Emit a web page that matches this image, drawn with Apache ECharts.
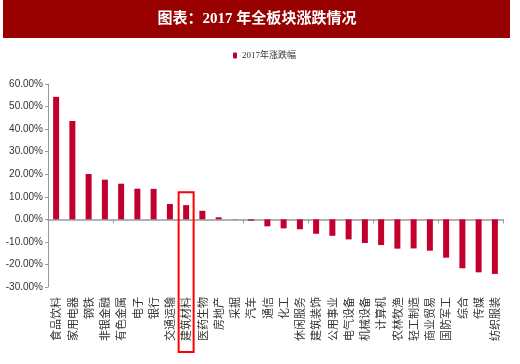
<!DOCTYPE html>
<html><head><meta charset="utf-8">
<script src="https://cdn.jsdelivr.net/npm/echarts@6/dist/echarts.min.js"></script>
<style>html,body{margin:0;padding:0;background:#fff}#c{width:520px;height:364px}</style>
</head><body><div id="c"></div>
<script>
var categories = ['食品饮料','家用电器','钢铁','非银金融','有色金属','电子','银行','交通运输','建筑材料','医药生物','房地产','采掘','汽车','通信','化工','休闲服务','建筑装饰','公用事业','电气设备','机械设备','计算机','农林牧渔','轻工制造','商业贸易','国防军工','综合','传媒','纺织服装'];
var values = [54.3,43.6,20.1,17.6,15.8,13.6,13.5,6.8,6.3,3.8,0.9,0.1,-0.6,-3.1,-4.0,-4.4,-6.4,-7.3,-8.9,-10.5,-11.4,-13.0,-12.9,-13.9,-17.0,-21.7,-23.5,-24.2];
var seriesName = '2017年涨跌幅';
var titleText = '图表：2017 年全板块涨跌情况';
var highlighted = '建筑材料';

var chart = echarts.init(document.getElementById('c'), null, {renderer:'canvas'});
chart.setOption({
  animation:false,
  backgroundColor:'#fff',
  legend:{data:[seriesName], left:228, top:46, itemWidth:4, itemHeight:6, itemGap:4,
    textStyle:{fontFamily:'Liberation Serif, Noto Sans CJK SC', fontSize:9, color:'#333'}},
  grid:{left:48, right:17, top:84, bottom:77, containLabel:false},
  xAxis:[{type:'category', data:categories, gridIndex:0, position:'bottom',
    axisLine:{onZero:true, lineStyle:{color:'#999', width:1.5}},
    axisTick:{show:true, inside:false, length:4, lineStyle:{color:'#999'}},
    axisLabel:{show:false}},
   {type:'category', data:categories, gridIndex:0, position:'bottom',
    axisLine:{show:false, onZero:false}, axisTick:{show:false},
    axisLabel:{show:true, interval:0, rotate:90, margin:10, fontSize:11, color:'#333', fontFamily:'Noto Sans CJK SC'}}],
  yAxis:{type:'value', min:-30, max:60, interval:10,
    axisLine:{show:true, lineStyle:{color:'#999'}},
    axisTick:{show:true, length:3, lineStyle:{color:'#999'}},
    splitLine:{show:false},
    axisLabel:{formatter:function(v){return v.toFixed(2)+'%';}, fontSize:10, color:'#333', fontFamily:'Liberation Sans', margin:5}},
  series:[{name:seriesName, type:'bar', data:values, barWidth:6, itemStyle:{color:'#C20030'}}]
});
var cx = chart.convertToPixel({xAxisIndex:0}, highlighted);
var yt = chart.convertToPixel({yAxisIndex:0}, 12);
chart.setOption({graphic:[
  {type:'rect', shape:{x:3, y:0, width:507, height:38}, style:{fill:'#990000'}, z:0},
  {type:'text', x:257, y:19, style:{text:titleText, fill:'#fff', font:'bold 15px "Liberation Serif","Noto Sans CJK SC"', textAlign:'center', textVerticalAlign:'middle'}},
  {type:'rect', shape:{x:cx-7.5, y:yt, width:15, height:352-yt}, style:{fill:'none', stroke:'#ff0000', lineWidth:2}, z:100}
]});
</script></body></html>
